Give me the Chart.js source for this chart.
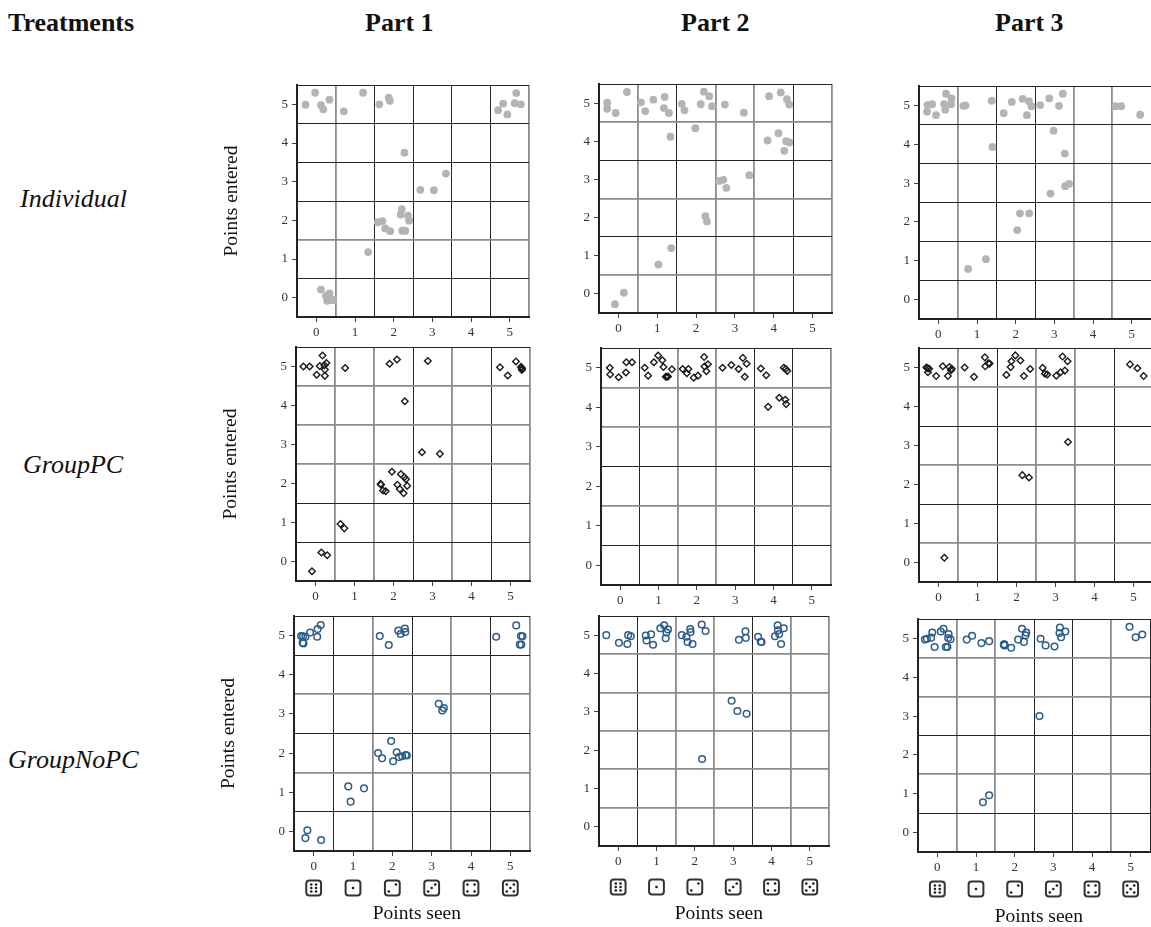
<!DOCTYPE html>
<html>
<head>
<meta charset="utf-8">
<script src="https://cdn.jsdelivr.net/npm/chart.js@4"></script>
<style>
  html, body { margin: 0; padding: 0; background: #fff; }
  body { position: relative; width: 1151px; height: 927px; overflow: hidden; font-family: "Liberation Serif", serif; color: #111; }
  canvas { position: absolute; filter: blur(0.35px); }
  .txt { position: absolute; white-space: nowrap; line-height: 1; }
  .head { font-weight: bold; font-size: 26px; top: 10px; }
  .row { font-style: italic; font-size: 26px; }
</style>
</head>
<body>
<div class="txt head" style="left:8px">Treatments</div>
<div class="txt head" style="left:365px">Part 1</div>
<div class="txt head" style="left:681px">Part 2</div>
<div class="txt head" style="left:995px">Part 3</div>
<div class="txt row" style="left:20px;top:186px">Individual</div>
<div class="txt row" style="left:23px;top:452px">GroupPC</div>
<div class="txt row" style="left:8px;top:747px">GroupNoPC</div>
<script>
const diceFaces = [6, 1, 2, 3, 4, 5];
const yAxisLabel = "Points entered";
const xAxisLabel = "Points seen";

// Individual
const ind1Seen = [-0.28,-0.03,0.12,0.18,0.34,0.71,1.21,1.63,1.87,1.90,4.70,4.83,4.94,5.13,5.17,5.29,2.28,3.35,2.69,3.04,2.21,2.18,2.37,2.40,1.59,1.71,1.78,1.91,2.22,2.30,1.34,0.12,0.25,0.34,0.28,0.39,0.44];
const ind1Entered = [4.99,5.30,4.98,4.87,5.12,4.82,5.30,5.00,5.17,5.09,4.85,5.02,4.74,5.03,5.29,5.00,3.75,3.21,2.79,2.78,2.29,2.15,2.12,1.99,1.95,1.98,1.79,1.72,1.73,1.73,1.18,0.21,0.04,0.11,-0.08,-0.06,-0.06];
const ind2Seen = [-0.29,-0.29,-0.07,0.22,0.58,0.69,0.90,1.19,1.17,1.30,1.34,1.63,1.70,1.98,2.12,2.20,2.34,2.41,2.74,3.23,3.88,4.18,4.34,4.40,3.84,4.12,4.32,4.40,4.27,2.60,2.70,2.78,3.37,2.24,2.28,1.36,1.03,0.14,-0.09];
const ind2Entered = [5.01,4.85,4.74,5.29,5.02,4.79,5.09,5.16,4.87,4.74,4.12,4.98,4.81,4.34,4.97,5.30,5.18,4.92,4.96,4.75,5.18,5.28,5.10,4.96,4.02,4.21,4.00,3.97,3.75,2.96,2.99,2.78,3.11,2.04,1.90,1.20,0.77,0.03,-0.27];
const ind3Seen = [-0.28,-0.16,-0.29,-0.06,0.15,0.20,0.34,0.33,0.18,0.65,0.70,1.38,1.40,1.69,1.90,2.18,2.34,2.41,2.29,2.63,2.87,3.22,3.12,2.98,3.27,3.28,3.38,2.90,2.11,2.35,2.04,1.23,0.77,4.58,4.73,5.22];
const ind3Entered = [5.01,5.03,4.84,4.75,5.03,5.30,5.18,5.03,4.89,4.99,5.00,5.12,3.93,4.80,5.09,5.17,5.11,4.98,4.75,5.01,5.18,5.30,4.99,4.35,3.76,2.92,2.98,2.73,2.22,2.22,1.79,1.04,0.79,4.98,4.98,4.76];

// GroupPC
const pc1Seen = [-0.31,-0.15,0.03,0.11,0.18,0.23,0.24,0.24,0.28,0.76,1.90,2.09,2.88,2.29,2.73,3.19,1.96,2.19,2.28,2.32,2.35,2.10,2.16,2.26,1.67,1.68,1.73,1.80,0.64,0.74,0.15,0.30,-0.09,4.73,4.93,5.14,5.27,5.28,5.30,5.29];
const pc1Entered = [5.00,5.00,4.79,5.01,5.28,5.03,4.92,4.76,5.09,4.96,5.07,5.18,5.14,4.11,2.80,2.76,2.30,2.24,2.16,2.11,1.94,1.97,1.86,1.75,1.99,1.97,1.82,1.80,0.96,0.85,0.23,0.16,-0.25,4.98,4.77,5.13,4.99,4.97,4.94,4.91];
const pc2Seen = [-0.27,-0.26,-0.04,0.15,0.16,0.31,0.64,0.73,0.88,0.99,1.10,1.13,1.19,1.22,1.25,1.35,1.63,1.74,1.78,1.92,2.03,2.19,2.20,2.25,2.29,2.67,2.90,3.09,3.20,3.30,3.25,3.67,3.81,3.86,4.15,4.31,4.33,4.27,4.32,4.36];
const pc2Entered = [5.00,4.83,4.76,4.88,5.14,5.14,5.00,4.80,5.14,5.31,5.19,5.02,4.77,4.77,4.78,4.96,4.97,4.86,4.97,4.75,4.80,5.27,5.03,4.91,5.09,5.00,5.07,4.97,5.25,5.10,4.77,4.98,4.81,4.01,4.24,4.19,4.08,5.00,4.97,4.92];
const pc3Seen = [-0.31,-0.27,-0.28,-0.24,-0.06,0.11,0.28,0.24,0.34,0.32,0.67,0.91,1.19,1.20,1.28,1.31,1.74,1.85,1.87,1.97,2.10,2.19,2.35,2.67,2.73,2.79,3.02,3.13,3.24,3.18,3.31,2.15,2.32,3.32,0.15,4.91,5.10,5.26];
const pc3Entered = [5.00,4.88,4.98,4.97,4.78,5.03,5.01,4.78,4.97,4.93,5.00,4.76,5.26,5.03,5.11,5.10,4.81,5.01,5.16,5.31,5.18,4.78,4.96,4.99,4.84,4.82,4.79,4.88,4.92,5.28,5.16,2.24,2.18,3.09,0.12,5.08,4.98,4.78];

// GroupNoPC
const nopc1Seen = [-0.32,-0.27,-0.28,-0.26,-0.21,-0.09,0.10,0.09,0.18,1.68,1.91,2.15,2.21,2.32,2.33,4.64,5.15,5.27,5.31,5.24,5.28,3.18,3.31,3.27,1.97,1.64,1.74,2.11,2.02,2.17,2.25,2.34,2.37,0.88,1.28,0.94,-0.16,-0.21,0.19];
const nopc1Entered = [4.99,4.98,4.82,4.80,4.97,5.08,5.17,4.97,5.27,4.99,4.76,5.13,5.04,5.18,5.09,4.97,5.26,4.99,4.98,4.77,4.77,3.26,3.15,3.09,2.31,2.00,1.87,2.02,1.79,1.90,1.92,1.95,1.94,1.15,1.10,0.76,0.03,-0.17,-0.22];
const nopc2Seen = [-0.31,0.02,0.24,0.26,0.33,0.72,0.74,0.86,0.91,1.10,1.20,1.30,1.26,1.24,1.66,1.78,1.88,1.89,1.81,1.94,2.18,2.28,2.96,3.11,3.35,3.15,3.33,3.32,3.65,3.72,3.74,4.09,4.16,4.17,4.20,4.32,4.25,2.19];
const nopc2Entered = [5.00,4.80,4.77,5.00,4.97,4.99,4.86,5.02,4.75,5.18,5.26,5.15,5.07,4.92,5.00,4.96,5.16,5.08,4.82,4.77,5.28,5.11,3.29,3.02,2.95,4.88,4.93,5.10,4.96,4.83,4.82,4.97,5.26,5.13,5.03,5.18,4.77,1.77];
const nopc3Seen = [-0.32,-0.27,-0.16,-0.13,-0.07,0.09,0.16,0.29,0.28,0.34,0.22,0.26,0.76,0.90,1.14,1.34,1.18,1.34,1.73,1.74,1.72,1.91,2.09,2.24,2.19,2.30,2.28,2.67,2.80,3.03,3.16,3.17,3.20,3.31,2.64,4.97,5.13,5.30];
const nopc3Entered = [4.97,4.99,5.02,5.15,4.78,5.18,5.25,5.11,5.01,4.98,4.78,4.78,4.97,5.07,4.88,4.93,0.78,0.96,4.85,4.82,4.84,4.76,4.97,4.91,5.25,5.15,5.08,4.99,4.82,4.79,5.14,5.28,5.03,5.18,3.00,5.30,5.03,5.10];

const dot = { pointStyle: "circle", pointRadius: 3.9, backgroundColor: "#b4b4b4", borderColor: "#b4b4b4", borderWidth: 0 };
const diamond = { pointStyle: "rectRot", pointRadius: 3.3, backgroundColor: "rgba(0,0,0,0)", borderColor: "#1a1a1a", borderWidth: 1.4 };
const ring = { pointStyle: "circle", pointRadius: 3.3, backgroundColor: "rgba(0,0,0,0)", borderColor: "#2b5c8a", borderWidth: 1.5 };

// plot rectangles, soft = grid lines that look grey and wide there
const panels = [
  { seen: ind1Seen, entered: ind1Entered, mark: dot, l: 297, t: 85, w: 232, h: 232, softX: [0.5, 5.5], softY: [1.5] },
  { seen: ind2Seen, entered: ind2Entered, mark: dot, l: 599, t: 84, w: 233, h: 229, softX: [0.5, 2.5, 3.5, 5.5], softY: [4.5, 2.5, 0.5] },
  { seen: ind3Seen, entered: ind3Entered, mark: dot, l: 919, t: 86, w: 232, h: 233, softX: [0.5, 3.5, 4.5], softY: [] },
  { seen: pc1Seen, entered: pc1Entered, mark: diamond, l: 296, t: 347, w: 234, h: 234, softX: [0.5, 1.5, 3.5, 5.5], softY: [4.5, 3.5, 2.5] },
  { seen: pc2Seen, entered: pc2Entered, mark: diamond, l: 601, t: 348, w: 230, h: 237, softX: [1.5, 2.5, 5.5], softY: [4.5, 3.5, 1.5, -0.5] },
  { seen: pc3Seen, entered: pc3Entered, mark: diamond, l: 919, t: 348, w: 234, h: 234, softX: [0.5, 2.5, 3.5], softY: [4.5, 2.5, 0.5] },
  { seen: nopc1Seen, entered: nopc1Entered, mark: ring, l: 294, t: 616, w: 236, h: 235, softX: [1.5, 3.5, 5.5], softY: [3.5, 1.5], dice: 37, below: 64 },
  { seen: nopc2Seen, entered: nopc2Entered, mark: ring, l: 599, t: 616, w: 230, h: 230, softX: [1.5, 2.5, 4.5, 5.5], softY: [4.5, 3.5, 2.5, 1.5, 0.5], dice: 41, below: 69 },
  { seen: nopc3Seen, entered: nopc3Entered, mark: ring, l: 918, t: 619, w: 232, h: 233, softX: [0.5, 1.5, 4.5], softY: [4.5, 3.5, 1.5], dice: 37, below: 66 },
];

// pip positions on a die, -1..1 from its centre
const pips = {
  1: [[0, 0]],
  2: [[-0.6, 0.6], [0.6, -0.6]],
  3: [[-0.6, 0.6], [0, 0], [0.6, -0.6]],
  4: [[-0.6, -0.6], [0.6, -0.6], [-0.6, 0.6], [0.6, 0.6]],
  5: [[-0.6, -0.6], [0.6, -0.6], [0, 0], [-0.6, 0.6], [0.6, 0.6]],
  6: [[-0.4, -0.6], [0.4, -0.6], [-0.4, 0], [0.4, 0], [-0.4, 0.6], [0.4, 0.6]],
};

const dicePlugin = {
  id: "dice",
  afterDraw(chart, args, opts) {
    const ctx = chart.ctx;
    const xs = chart.scales.x;
    const cy = chart.chartArea.bottom + opts.gap;
    const half = 7.4;
    ctx.save();
    diceFaces.forEach((face, i) => {
      const cx = xs.getPixelForValue(i);
      ctx.beginPath();
      ctx.roundRect(cx - half, cy - half, half * 2, half * 2, 3);
      ctx.lineWidth = 2;
      ctx.strokeStyle = "#333";
      ctx.stroke();
      ctx.fillStyle = "#1c1c1c";
      pips[face].forEach((p) => {
        ctx.beginPath();
        ctx.arc(cx + p[0] * half * 0.8, cy + p[1] * half * 0.8, 1.3, 0, Math.PI * 2);
        ctx.fill();
      });
    });
    ctx.restore();
  },
};

const font = { family: "Liberation Serif", size: 13 };
const sharp = "#262626";
const soft = "#8c8c8c";

panels.forEach((p, idx) => {
  const marginL = idx % 3 == 0 ? 80 : 40;
  const marginTop = 8;
  const marginR = 8;
  const marginB = p.dice ? p.below + 14 : 26;

  const canvas = document.createElement("canvas");
  canvas.width = p.w + marginL + marginR;
  canvas.height = p.h + marginTop + marginB;
  canvas.style.left = p.l - marginL + "px";
  canvas.style.top = p.t - marginTop + "px";
  document.body.appendChild(canvas);

  const lineColor = (softList) => (c) => {
    if (Number.isInteger(c.tick.value)) return "rgba(0,0,0,0)";
    return softList.includes(c.tick.value) ? soft : sharp;
  };
  const lineWidth = (softList) => (c) => (softList.includes(c.tick.value) ? 1.8 : 1);
  const tickColor = (c) => (Number.isInteger(c.tick.value) ? "#444" : "rgba(0,0,0,0)");
  const label = (v) => (Number.isInteger(v) ? String(v) : "");

  new Chart(canvas, {
    type: "scatter",
    data: {
      datasets: [{
        data: p.seen.map((x, i) => ({ x: x, y: p.entered[i] })),
        ...p.mark,
        pointHoverRadius: p.mark.pointRadius,
      }],
    },
    plugins: p.dice ? [dicePlugin] : [],
    options: {
      responsive: false,
      animation: false,
      layout: { padding: { top: marginTop, right: marginR, left: 0, bottom: 0 } },
      plugins: {
        legend: { display: false },
        tooltip: { enabled: false },
        dice: { gap: p.dice },
      },
      scales: {
        x: {
          type: "linear",
          min: -0.5,
          max: 5.5,
          afterFit: (s) => { s.height = marginB; },
          border: { color: "#222", width: 2 },
          grid: { color: lineColor(p.softX), lineWidth: lineWidth(p.softX), tickColor: tickColor, tickLength: 5 },
          ticks: { stepSize: 0.5, autoSkip: false, maxRotation: 0, padding: 3, color: "#333", font: font, callback: label },
          // the two no-break spaces push the title a little right of the plot's centre, as in the picture
          title: p.dice
            ? { display: true, text: "\u00a0\u00a0" + xAxisLabel, color: "#111", font: { family: "Liberation Serif", size: 19.5 }, padding: { top: 0, bottom: 3 } }
            : { display: false },
        },
        y: {
          type: "linear",
          min: -0.5,
          max: 5.5,
          // the empty half-step labels would otherwise reserve space above the plot
          afterFit: (s) => { s.width = marginL; s.paddingTop = 0; s.paddingBottom = 0; },
          border: { color: "#222", width: 2 },
          grid: { color: lineColor(p.softY), lineWidth: lineWidth(p.softY), tickColor: tickColor, tickLength: 5 },
          ticks: { stepSize: 0.5, autoSkip: false, padding: 4, color: "#333", font: font, callback: label },
          title: idx % 3 == 0
            ? { display: true, text: yAxisLabel, color: "#111", font: { family: "Liberation Serif", size: 19.5 }, padding: { top: 3, bottom: 0 } }
            : { display: false },
        },
      },
    },
  });
});
</script>
</body>
</html>
